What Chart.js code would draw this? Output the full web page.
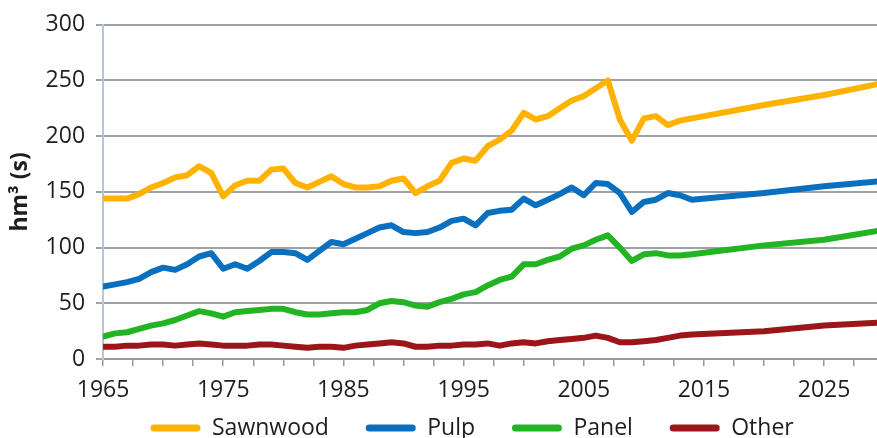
<!DOCTYPE html>
<html>
<head>
<meta charset="utf-8">
<title>Wood products</title>
<script src="https://cdn.jsdelivr.net/npm/chart.js@4.4.1/dist/chart.umd.min.js"></script>
<style>
  html, body { margin: 0; padding: 0; background: #fff; }
</style>
</head>
<body>
<canvas id="myChart" width="877" height="438"></canvas>
<script>
const ctx = document.getElementById("myChart").getContext("2d");

// yearly history 1965-2014, then projection points
const years = [
  1965, 1966, 1967, 1968, 1969, 1970, 1971, 1972, 1973, 1974,
  1975, 1976, 1977, 1978, 1979, 1980, 1981, 1982, 1983, 1984,
  1985, 1986, 1987, 1988, 1989, 1990, 1991, 1992, 1993, 1994,
  1995, 1996, 1997, 1998, 1999, 2000, 2001, 2002, 2003, 2004,
  2005, 2006, 2007, 2008, 2009, 2010, 2011, 2012, 2013, 2014,
  2020, 2025, 2030,
];

const sawnwood = [
  144, 144, 144, 148, 154, 158, 163, 165, 173, 167,
  146, 156, 160, 160, 170, 171, 158, 154, 159, 164,
  157, 154, 154, 155, 160, 162, 149, 155, 160, 176,
  180, 178, 191, 197, 205, 221, 215, 218, 225, 232,
  236, 243, 250, 215, 196, 216, 218, 210, 214, 216,
  228, 237, 248,
];

const pulp = [
  65, 67, 69, 72, 78, 82, 80, 85, 92, 95,
  81, 85, 81, 88, 96, 96, 95, 89, 97, 105,
  103, 108, 113, 118, 120, 114, 113, 114, 118, 124,
  126, 120, 131, 133, 134, 144, 138, 143, 148, 154,
  147, 158, 157, 149, 132, 141, 143, 149, 147, 143,
  149, 155, 160,
];

const panel = [
  20, 23, 24, 27, 30, 32, 35, 39, 43, 41,
  38, 42, 43, 44, 45, 45, 42, 40, 40, 41,
  42, 42, 44, 50, 52, 51, 48, 47, 51, 54,
  58, 60, 66, 71, 74, 85, 85, 89, 92, 99,
  102, 107, 111, 100, 88, 94, 95, 93, 93, 94,
  102, 107, 116,
];

const other = [
  11, 11, 12, 12, 13, 13, 12, 13, 14, 13,
  12, 12, 12, 13, 13, 12, 11, 10, 11, 11,
  10, 12, 13, 14, 15, 14, 11, 11, 12, 12,
  13, 13, 14, 12, 14, 15, 14, 16, 17, 18,
  19, 21, 19, 15, 15, 16, 17, 19, 21, 22,
  25, 30, 33,
];

const xLabelYears = [1965, 1975, 1985, 1995, 2005, 2015, 2025];
const yTicks = [0, 50, 100, 150, 200, 250, 300];

const FONT = "'Open Sans', sans-serif";
const TEXT = "#1e1e1e";

function points(values) {
  return years.map((yr, i) => ({ x: yr, y: values[i] }));
}

function series(label, values, color) {
  return {
    label,
    data: points(values),
    borderColor: color,
    backgroundColor: color,
    borderWidth: 6,
    pointRadius: 0,
    tension: 0,
    borderJoinStyle: "round",
    borderCapStyle: "round",
  };
}

const config = {
  type: "line",
  data: {
    datasets: [
      series("Sawnwood", sawnwood, "#ffb300"),
      series("Pulp", pulp, "#0a6fbf"),
      series("Panel", panel, "#22b422"),
      series("Other", other, "#9c1519"),
    ],
  },
  options: {
    responsive: false,
    animation: false,
    layout: {
      padding: { left: 7, top: 21.2, right: -5, bottom: -11.6 },
    },
    plugins: {
      legend: {
        position: "bottom",
        align: "center",
        fullSize: false,
        labels: {
          font: { family: FONT, size: 23 },
          color: TEXT,
          boxWidth: 50,
          boxHeight: 7,
          padding: 1,
          useBorderRadius: true,
          borderRadius: 3.5,
          // trailing spaces give the wide gaps between entries
          generateLabels: (chart) =>
            Chart.defaults.plugins.legend.labels
              .generateLabels(chart)
              .map((item) => Object.assign(item, { lineWidth: 0, text: item.text + "      " })),
        },
      },
      tooltip: { enabled: false },
    },
    scales: {
      x: {
        type: "linear",
        min: 1965,
        max: 2029.4,
        afterBuildTicks: (scale) => {
          const ticks = [];
          for (let v = 1965; v <= scale.max; v += 2.5) ticks.push({ value: v });
          scale.ticks = ticks;
        },
        grid: {
          drawOnChartArea: false,
          tickLength: 7,
          color: "#9a9a9a",
          lineWidth: 1.5,
        },
        border: { color: "#9a9a9a", width: 2 },
        ticks: {
          autoSkip: false,
          maxRotation: 0,
          padding: 11,
          font: { family: FONT, size: 23 },
          color: TEXT,
          callback: (v) => (xLabelYears.includes(v) ? String(v) : ""),
        },
      },
      y: {
        min: 0,
        max: 300,
        afterBuildTicks: (scale) => {
          scale.ticks = yTicks.map((v) => ({ value: v }));
        },
        grid: { color: "#9ca2a8", lineWidth: 2, tickLength: 7 },
        border: { color: "#b6c6d6", width: 2 },
        ticks: {
          padding: 11,
          font: { family: FONT, size: 23 },
          color: TEXT,
        },
        title: {
          display: true,
          text: "hm³ (s)",
          color: TEXT,
          font: { family: FONT, size: 23, weight: "bold" },
          padding: { top: 0, bottom: 0 },
        },
      },
    },
  },
};

new Chart(ctx, config);
</script>
</body>
</html>
